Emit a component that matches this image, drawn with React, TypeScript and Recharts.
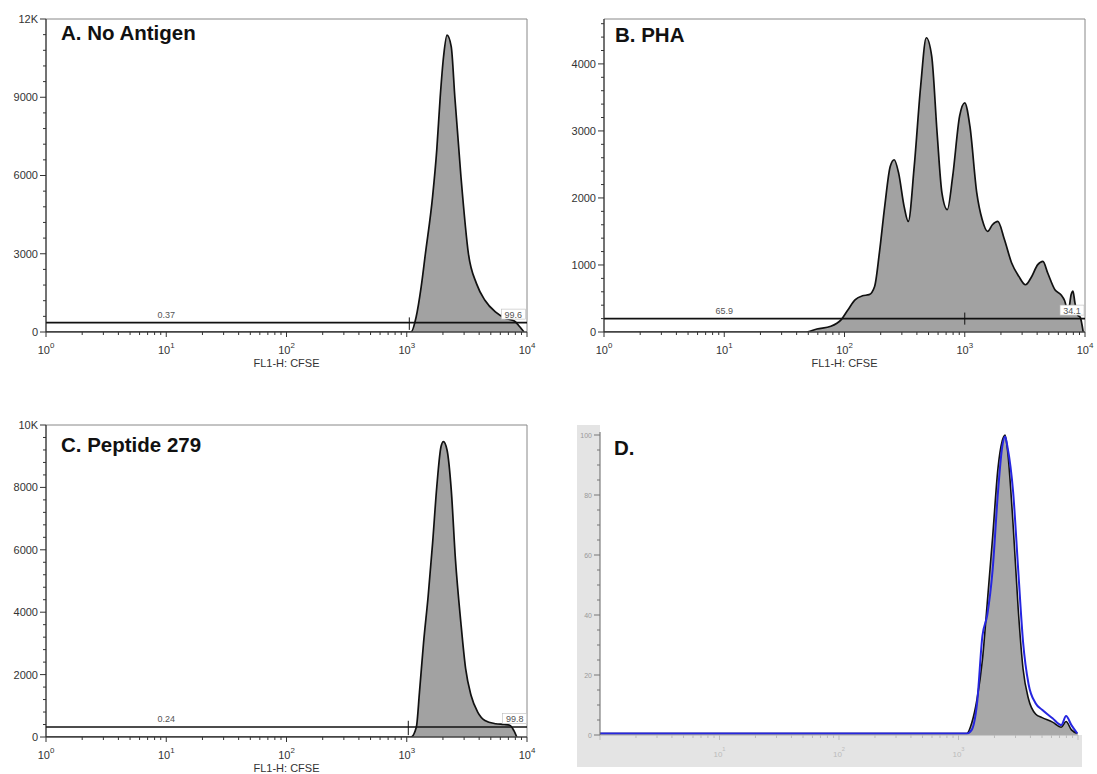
import React from 'react';
import {
  ComposedChart,
  Area,
  Line,
  XAxis,
  YAxis,
  ReferenceLine,
  ReferenceDot,
  ReferenceArea,
  CartesianGrid,
} from 'recharts';

const FONT = '"Liberation Sans", Arial, Helvetica, sans-serif';

// ---------- Panel A : No Antigen ----------
const aFluor = [1, 1000, 1085, 1197, 1318, 1429, 1641, 1778, 1897, 2028, 2163, 2344, 2512, 2818, 3258, 3802, 4467, 5458, 6653, 7852, 8710, 9441];
const aCount = [0, 0, 0, 576, 1730, 3000, 5200, 7000, 9000, 10600, 11380, 10940, 9000, 6000, 3000, 1855, 1215, 768, 520, 420, 200, 0];
const aYTicks = [0, 3000, 6000, 9000, 12000];
const aYLabels = ['0', '3000', '6000', '9000', '12K'];
const aGateLevel = 360;
const aGateSplit = 1050;
const aGateLabels = ['0.37', '99.6'];
const aGateLabelX = [10, 7700];

// ---------- Panel B : PHA ----------
const bFluor = [1, 48, 59, 77, 94, 107, 123, 141, 160, 178, 195, 216, 240, 259, 282, 313, 339, 380, 430, 479, 531, 589, 646, 716, 794, 906, 1000, 1104, 1259, 1396, 1549, 1698, 1884, 2138, 2455, 2818, 3199, 3548, 4046, 4467, 4898, 5623, 6310, 6761, 7244, 7674, 7943, 8222, 8710, 9120, 9661];
const bCount = [0, 0, 45, 85, 185, 333, 483, 540, 557, 680, 1180, 1875, 2470, 2570, 2370, 1875, 1650, 2470, 3670, 4390, 4115, 2970, 2075, 1825, 2325, 3220, 3420, 3070, 2075, 1677, 1500, 1600, 1650, 1380, 1030, 830, 705, 805, 1005, 1055, 880, 630, 557, 470, 300, 560, 610, 450, 250, 220, 0];
const bYTicks = [0, 1000, 2000, 3000, 4000];
const bYLabels = ['0', '1000', '2000', '3000', '4000'];
const bGateLevel = 200;
const bGateSplit = 1000;
const bGateLabels = ['65.9', '34.1'];
const bGateLabelX = [10, 7800];

// ---------- Panel C : Peptide 279 ----------
const cFluor = [1, 1000, 1084, 1202, 1276, 1380, 1507, 1641, 1778, 1928, 2018, 2163, 2344, 2541, 2818, 3090, 3428, 3890, 4467, 5495, 6457, 7244, 7762, 8222];
const cCount = [0, 0, 0, 320, 1436, 3030, 4520, 6220, 8030, 9310, 9470, 9200, 7930, 5690, 3670, 2180, 1330, 800, 530, 425, 400, 370, 210, 0];
const cYTicks = [0, 2000, 4000, 6000, 8000, 10000];
const cYLabels = ['0', '2000', '4000', '6000', '8000', '10K'];
const cGateLevel = 320;
const cGateSplit = 1030;
const cGateLabels = ['0.24', '99.8'];
const cGateLabelX = [10, 7900];

// ---------- Panel D : overlay (% of max) ----------
const dFluor = [1, 1000, 1175, 1290, 1430, 1585, 1740, 1930, 2140, 2320, 2455, 2570, 2865, 3160, 3470, 3855, 4415, 5010, 6125, 7245, 7945, 8810, 9885];
const dFilled = [0.5, 0.5, 0.5, 4, 12, 25, 44, 66, 89, 98, 100, 95, 70, 42, 22, 12, 7, 5.8, 4.3, 2.6, 4.5, 1.7, 0.5];
const dOverlay = [0.5, 0.5, 0.5, 1.7, 10.6, 33, 40, 55, 81, 96, 99.5, 96, 81, 55, 31, 17, 10.6, 8.4, 5.6, 3.3, 6.3, 3.3, 0.5];
const dYTicks = [0, 20, 40, 60, 80, 100];
const dYLabels = ['0', '20', '40', '60', '80', '100'];

const titles = ['A. No Antigen', 'B. PHA', 'C. Peptide 279', 'D.'];
const xAxisTitle = 'FL1-H: CFSE';

// log-decade tick positions 1..10^4
const XTICKS: number[] = [];
for (let e = 0; e < 4; e++) for (let m = 1; m < 10; m++) XTICKS.push(m * Math.pow(10, e));
XTICKS.push(10000);

function minorTicks(max: number, step: number): number[] {
  const out: number[] = [];
  for (let v = 0; v <= max + 1e-9; v += step) out.push(Math.round(v * 1000) / 1000);
  return out;
}

function makeXTick(opts: { line: string; text: string; labels: number[] | 'all'; fontSize: number }) {
  return (props: any) => {
    const { x, y, payload } = props;
    const v = payload.value as number;
    const lg = Math.log10(v);
    const e = Math.round(lg);
    const major = Math.abs(lg - e) < 1e-6;
    const showLabel = major && (opts.labels === 'all' || (opts.labels as number[]).indexOf(e) >= 0);
    return (
      <g>
        <line x1={x} x2={x} y1={y} y2={y + (major ? 5 : 3)} stroke={opts.line} strokeWidth={1} />
        {showLabel && (
          <text x={x} y={y + 22} textAnchor="middle" fontSize={opts.fontSize} fill={opts.text}>
            10
            <tspan dy={-6} fontSize={opts.fontSize * 0.72}>
              {e}
            </tspan>
          </text>
        )}
      </g>
    );
  };
}

function makeYTick(majors: number[], labels: string[], opts: { line: string; text: string; fontSize: number }) {
  return (props: any) => {
    const { x, y, payload } = props;
    const v = payload.value as number;
    const idx = majors.findIndex((m) => Math.abs(m - v) < 1e-6);
    const major = idx >= 0;
    return (
      <g>
        <line x1={x - (major ? 6 : 3)} x2={x} y1={y} y2={y} stroke={opts.line} strokeWidth={1} />
        {major && (
          <text x={x - 8} y={y} dy={opts.fontSize * 0.36} textAnchor="end" fontSize={opts.fontSize} fill={opts.text}>
            {labels[idx]}
          </text>
        )}
      </g>
    );
  };
}

function gateLabel(text: string, boxed: boolean) {
  return (s: any) => {
    const cx = s.cx as number;
    const cy = s.cy as number;
    const w = text.length * 5 + 4;
    return (
      <g>
        {boxed && <rect x={cx - w / 2} y={cy - 13.5} width={w} height={10} fill="#fff" stroke="#bbb" strokeWidth={0.6} />}
        <text x={cx} y={cy - 5} textAnchor="middle" fontSize={9} fill="#555">
          {text}
        </text>
      </g>
    );
  };
}

type HistProps = {
  left: number;
  top: number;
  width: number;
  height: number;
  margin: { top: number; right: number; bottom: number; left: number };
  yAxisWidth: number;
  fluor: number[];
  counts: number[];
  yMax: number;
  yMajor: number[];
  yLabels: string[];
  yMinorStep: number;
  gateLevel: number;
  gateSplit: number;
  gateTick: [number, number];
  gateLabels: string[];
  gateLabelX: number[];
};

function HistPanel(p: HistProps) {
  const data = p.fluor.map((x, i) => ({ x, count: p.counts[i] }));
  const yTicks = minorTicks(p.yMax, p.yMinorStep);
  const xTick = makeXTick({ line: '#333', text: '#333', labels: 'all', fontSize: 11 });
  const yTick = makeYTick(p.yMajor, p.yLabels, { line: '#333', text: '#333', fontSize: 11 });
  return (
    <div style={{ position: 'absolute', left: p.left, top: p.top }}>
      <ComposedChart width={p.width} height={p.height} data={data} margin={p.margin} style={{ fontFamily: FONT }}>
        <XAxis
          type="number"
          dataKey="x"
          scale="log"
          domain={[1, 10000]}
          ticks={XTICKS}
          interval={0}
          tick={xTick}
          tickLine={false}
          tickSize={0}
          tickMargin={0}
          axisLine={{ stroke: '#222' }}
          height={37}
          allowDataOverflow
          label={{ value: xAxisTitle, position: 'insideBottom', offset: 2, fontSize: 11, fill: '#333' }}
        />
        <YAxis
          type="number"
          domain={[0, p.yMax]}
          ticks={yTicks}
          interval={0}
          tick={yTick}
          tickLine={false}
          tickSize={0}
          tickMargin={0}
          axisLine={{ stroke: '#222' }}
          width={p.yAxisWidth}
          allowDataOverflow
        />
        <Area
          type="monotone"
          dataKey="count"
          stroke="#111"
          strokeWidth={1.7}
          fill="#a2a2a2"
          fillOpacity={1}
          isAnimationActive={false}
        />
        <ReferenceArea x1={1} x2={10000} y1={0} y2={p.yMax} fill="none" stroke="#888" strokeWidth={1} ifOverflow="visible" />
        <ReferenceLine
          segment={[
            { x: 1, y: p.gateLevel },
            { x: 10000, y: p.gateLevel },
          ]}
          stroke="#111"
          strokeWidth={1.6}
          ifOverflow="visible"
        />
        <ReferenceLine
          segment={[
            { x: p.gateSplit, y: p.gateTick[0] },
            { x: p.gateSplit, y: p.gateTick[1] },
          ]}
          stroke="#111"
          strokeWidth={1}
          ifOverflow="visible"
        />
        <ReferenceDot x={p.gateLabelX[0]} y={p.gateLevel} r={1} ifOverflow="visible" shape={gateLabel(p.gateLabels[0], false)} />
        <ReferenceDot x={p.gateLabelX[1]} y={p.gateLevel} r={1} ifOverflow="visible" shape={gateLabel(p.gateLabels[1], true)} />
      </ComposedChart>
    </div>
  );
}

function OverlayPanel() {
  const data = dFluor.map((x, i) => ({ x, filled: dFilled[i], overlay: dOverlay[i] }));
  const yTicks = minorTicks(100, 5);
  const xTick = makeXTick({ line: '#bbb', text: '#bbb', labels: [1, 2, 3], fontSize: 8 });
  const yTick = makeYTick(dYTicks, dYLabels, { line: '#777', text: '#999', fontSize: 7 });
  return (
    <div style={{ position: 'absolute', left: 550, top: 392 }}>
      <div style={{ position: 'absolute', left: 27, top: 33, width: 23, height: 342, background: '#e4e4e4' }} />
      <div style={{ position: 'absolute', left: 27, top: 343, width: 505, height: 32, background: '#e4e4e4' }} />
      <ComposedChart
        width={547}
        height={382}
        data={data}
        margin={{ top: 40, right: 19, left: 0, bottom: 2 }}
        style={{ fontFamily: FONT, position: 'relative' }}
      >
        <CartesianGrid horizontal={false} vertical={false} fill="#fff" stroke="none" />
        <XAxis
          type="number"
          dataKey="x"
          scale="log"
          domain={[1, 10000]}
          ticks={XTICKS}
          interval={0}
          tick={xTick}
          tickLine={false}
          tickSize={0}
          tickMargin={0}
          axisLine={{ stroke: '#aaa' }}
          height={37}
          allowDataOverflow
        />
        <YAxis
          type="number"
          domain={[0, 101]}
          ticks={yTicks}
          interval={0}
          tick={yTick}
          tickLine={false}
          tickSize={0}
          tickMargin={0}
          axisLine={{ stroke: '#666' }}
          width={50}
          allowDataOverflow
        />
        <Area
          type="monotone"
          dataKey="filled"
          stroke="#111"
          strokeWidth={1.6}
          fill="#a8a8a8"
          fillOpacity={1}
          isAnimationActive={false}
        />
        <Line type="monotone" dataKey="overlay" stroke="#2626e0" strokeWidth={2} dot={false} isAnimationActive={false} />
      </ComposedChart>
    </div>
  );
}

export default function App() {
  return (
    <div style={{ position: 'absolute', left: 0, top: 0, width: 1097, height: 774, background: '#fff', fontFamily: FONT, overflow: 'hidden' }}>
      <HistPanel
        left={0}
        top={0}
        width={545}
        height={382}
        margin={{ top: 19, right: 18, left: 0, bottom: 13 }}
        yAxisWidth={46}
        fluor={aFluor}
        counts={aCount}
        yMax={12000}
        yMajor={aYTicks}
        yLabels={aYLabels}
        yMinorStep={600}
        gateLevel={aGateLevel}
        gateSplit={aGateSplit}
        gateTick={[80, 560]}
        gateLabels={aGateLabels}
        gateLabelX={aGateLabelX}
      />
      <HistPanel
        left={550}
        top={0}
        width={547}
        height={382}
        margin={{ top: 19, right: 12, left: 0, bottom: 13 }}
        yAxisWidth={54}
        fluor={bFluor}
        counts={bCount}
        yMax={4670}
        yMajor={bYTicks}
        yLabels={bYLabels}
        yMinorStep={200}
        gateLevel={bGateLevel}
        gateSplit={bGateSplit}
        gateTick={[110, 290]}
        gateLabels={bGateLabels}
        gateLabelX={bGateLabelX}
      />
      <HistPanel
        left={0}
        top={392}
        width={545}
        height={382}
        margin={{ top: 33, right: 18, left: 0, bottom: 0 }}
        yAxisWidth={46}
        fluor={cFluor}
        counts={cCount}
        yMax={10000}
        yMajor={cYTicks}
        yLabels={cYLabels}
        yMinorStep={400}
        gateLevel={cGateLevel}
        gateSplit={cGateSplit}
        gateTick={[60, 520]}
        gateLabels={cGateLabels}
        gateLabelX={cGateLabelX}
      />
      <OverlayPanel />
      <svg
        width={1097}
        height={774}
        style={{ position: 'absolute', left: 0, top: 0, pointerEvents: 'none', fontFamily: FONT }}
      >
        <text x={61} y={40} fontSize={20.5} fontWeight="bold" fill="#111">{titles[0]}</text>
        <text x={615} y={42} fontSize={20.5} fontWeight="bold" fill="#111">{titles[1]}</text>
        <text x={61} y={452} fontSize={20.5} fontWeight="bold" fill="#111">{titles[2]}</text>
        <text x={614} y={455} fontSize={20.5} fontWeight="bold" fill="#111">{titles[3]}</text>
      </svg>
    </div>
  );
}
